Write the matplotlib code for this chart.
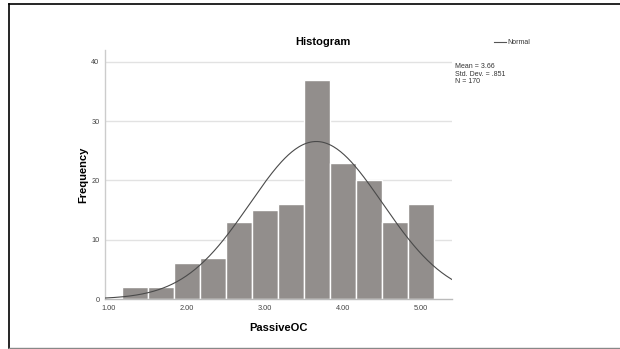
import numpy as np
import matplotlib
matplotlib.use("Agg")
import matplotlib.pyplot as plt
from matplotlib.lines import Line2D

plt.rcParams['font.family'] = ['Liberation Sans', 'DejaVu Sans']

# PassiveOC frequencies, bins of width 1/3 centred on 1.33, 1.67, ... 5.00
bin_centers = [4/3, 5/3, 2.0, 7/3, 8/3, 3.0, 10/3, 11/3, 4.0, 13/3, 14/3, 5.0]
counts = [2, 2, 6, 7, 13, 15, 16, 37, 23, 20, 13, 16]
bin_width = 1/3

mean = 3.66
std_dev = 0.851
n_obs = 170

x_ticks = [1.0, 2.0, 3.0, 4.0, 5.0]
y_ticks = [0, 10, 20, 30, 40]

fig = plt.figure(figsize=(6.2, 3.49), dpi=100)
ax = fig.add_axes([105/620, 1 - 299/349, (452 - 105)/620, (299 - 50)/349])

ax.set_xlim(0.95, 5.40)
ax.set_ylim(0, 42)

for y in y_ticks[1:]:
    ax.axhline(y, color='#e2e2e2', lw=1.0, zorder=0)

ax.bar(bin_centers, counts, width=bin_width, color='#928e8c',
       edgecolor='white', linewidth=1.0, zorder=2)

# normal curve scaled to the histogram
xs = np.linspace(0.95, 5.40, 300)
ys = n_obs * bin_width / (std_dev * np.sqrt(2 * np.pi)) * np.exp(-0.5 * ((xs - mean) / std_dev) ** 2)
ax.plot(xs, ys, color='#4a4a4a', lw=0.8, zorder=3)

ax.set_xticks(x_ticks)
ax.set_xticklabels([f"{v:.2f}" for v in x_ticks])
ax.set_yticks(y_ticks)
ax.tick_params(axis='both', length=0, labelsize=5.3, labelcolor='#444444')
ax.tick_params(axis='x', pad=4)
ax.tick_params(axis='y', pad=4)

for side in ['top', 'right']:
    ax.spines[side].set_visible(False)
ax.spines['left'].set_color('#cccccc')
ax.spines['bottom'].set_color('#bbbbbb')
ax.spines['left'].set_linewidth(1.0)
ax.spines['bottom'].set_linewidth(1.0)

ax.set_xlabel("PassiveOC", fontsize=8, fontweight='bold', labelpad=8)
ax.set_ylabel("Frequency", fontsize=8, fontweight='bold', labelpad=2)

fig.text(323/620, 1 - 42/349, "Histogram", ha='center', va='center',
         fontsize=8, fontweight='bold')

# legend entry and summary stats on the right
fig.add_artist(Line2D([494/620, 506/620], [1 - 42/349, 1 - 42/349],
                      color='#555555', lw=0.8))
fig.text(507/620, 1 - 42/349, "Normal", ha='left', va='center', fontsize=5, color='#333333')
fig.text(455/620, 1 - 63/349,
         f"Mean = {mean:.2f}\nStd. Dev. = {str(std_dev)[1:]}\nN = {n_obs}",
         ha='left', va='top', fontsize=5, color='#333333', linespacing=1.1)

# outer frame
fig.add_artist(Line2D([9/620, 9/620], [1 - 4/349, 1 - 348/349], color='black', lw=1.2))
fig.add_artist(Line2D([9/620, 1.0], [1 - 4/349, 1 - 4/349], color='black', lw=1.2))
fig.add_artist(Line2D([9/620, 1.0], [1 - 347.5/349, 1 - 347.5/349], color='#888888', lw=1.0))

fig.savefig("out.png", dpi=100)
